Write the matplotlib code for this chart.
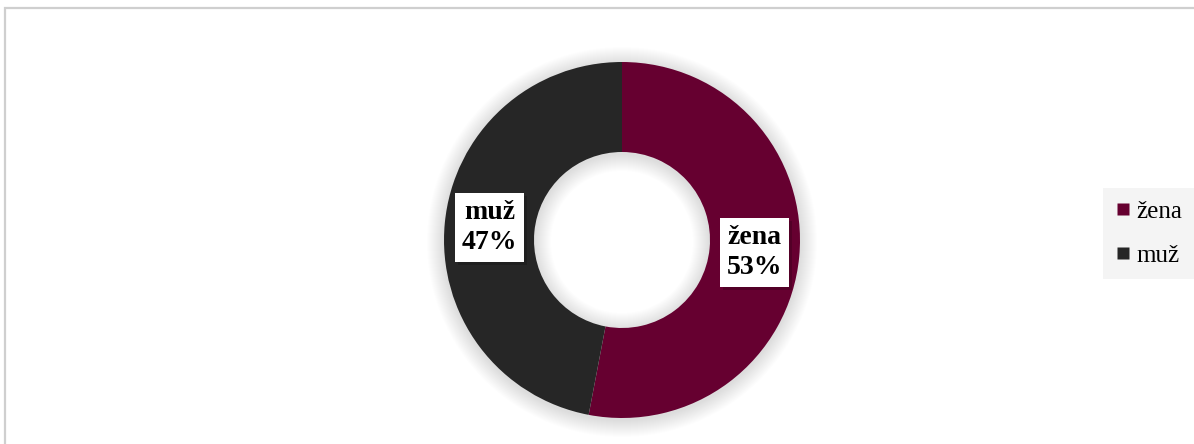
import matplotlib.pyplot as plt
import numpy as np
from matplotlib.patches import Wedge, Rectangle
from matplotlib.lines import Line2D

# pohlaví respondentů
categories = ["žena", "muž"]
shares = [53, 47]
colors = ["#660030", "#262626"]

W, H = 1194, 444
fig = plt.figure(figsize=(W / 100, H / 100), dpi=100)
ax = fig.add_axes([0, 0, 1, 1])

cx, cy = 622, H - 240
r_out, r_in = 178, 88

# měkký stín kolem prstence
for s in range(1, 18):
    ax.add_patch(Wedge((cx, cy - 2), r_out + s, 0, 360, width=r_out - r_in + 2 * s,
                       facecolor="black", edgecolor="none", alpha=0.006, zorder=1))

wedges, _ = ax.pie(shares, colors=colors, radius=r_out, center=(cx, cy),
                   startangle=90, counterclock=False,
                   wedgeprops=dict(width=r_out - r_in, edgecolor="none"))
for w in wedges:
    w.set_zorder(2)

# pie() mění meze os, proto až po něm
ax.set_xlim(0, W)
ax.set_ylim(0, H)
ax.set_aspect("equal")
ax.axis("off")

# popisky uprostřed výsečí
start = 90
r_mid = (r_out + r_in) / 2
labels = []
for name, val in zip(categories, shares):
    ang = np.deg2rad(start - val * 3.6 / 2)
    start -= val * 3.6
    x = cx + r_mid * np.cos(ang)
    y = cy + r_mid * np.sin(ang)
    t = ax.text(x, y, f"{name}\n{val}%", ha="center", va="center", fontsize=20,
                fontweight="bold", family="Liberation Serif", color="black",
                linespacing=1.25, zorder=4,
                bbox=dict(boxstyle="square,pad=0.25", fc="white", ec="none"))
    labels.append(t)

# rámeček grafu
ax.plot([5, 5, W + 5], [-5, H - 8, H - 8], color="#cfcfcf", lw=1.6,
        solid_joinstyle="miter", zorder=5)

handles = [Line2D([], [], marker="s", linestyle="none", markersize=9,
                  markerfacecolor=c, markeredgecolor="none") for c in colors]
leg = ax.legend(handles, categories, loc="upper left",
                bbox_to_anchor=(1103 / W, 1 - 188 / H), frameon=True,
                facecolor="#f4f4f4", edgecolor="none", fancybox=False,
                prop={"family": "Liberation Serif", "size": 18},
                handlelength=0.6, handletextpad=0.25, labelspacing=0.85,
                borderpad=0.5, borderaxespad=0)
leg.get_frame().set_alpha(1)

# stín pod bílými rámečky popisků
fig.canvas.draw()
inv = ax.transData.inverted()
for t in labels:
    bb = t.get_bbox_patch().get_window_extent()
    (x0, y0), (x1, y1) = inv.transform([[bb.x0, bb.y0], [bb.x1, bb.y1]])
    ax.add_patch(Rectangle((x0 + 3, y0 - 3), x1 - x0, y1 - y0, facecolor="black",
                           edgecolor="none", alpha=0.18, zorder=3))

fig.savefig("out.png", dpi=100)
